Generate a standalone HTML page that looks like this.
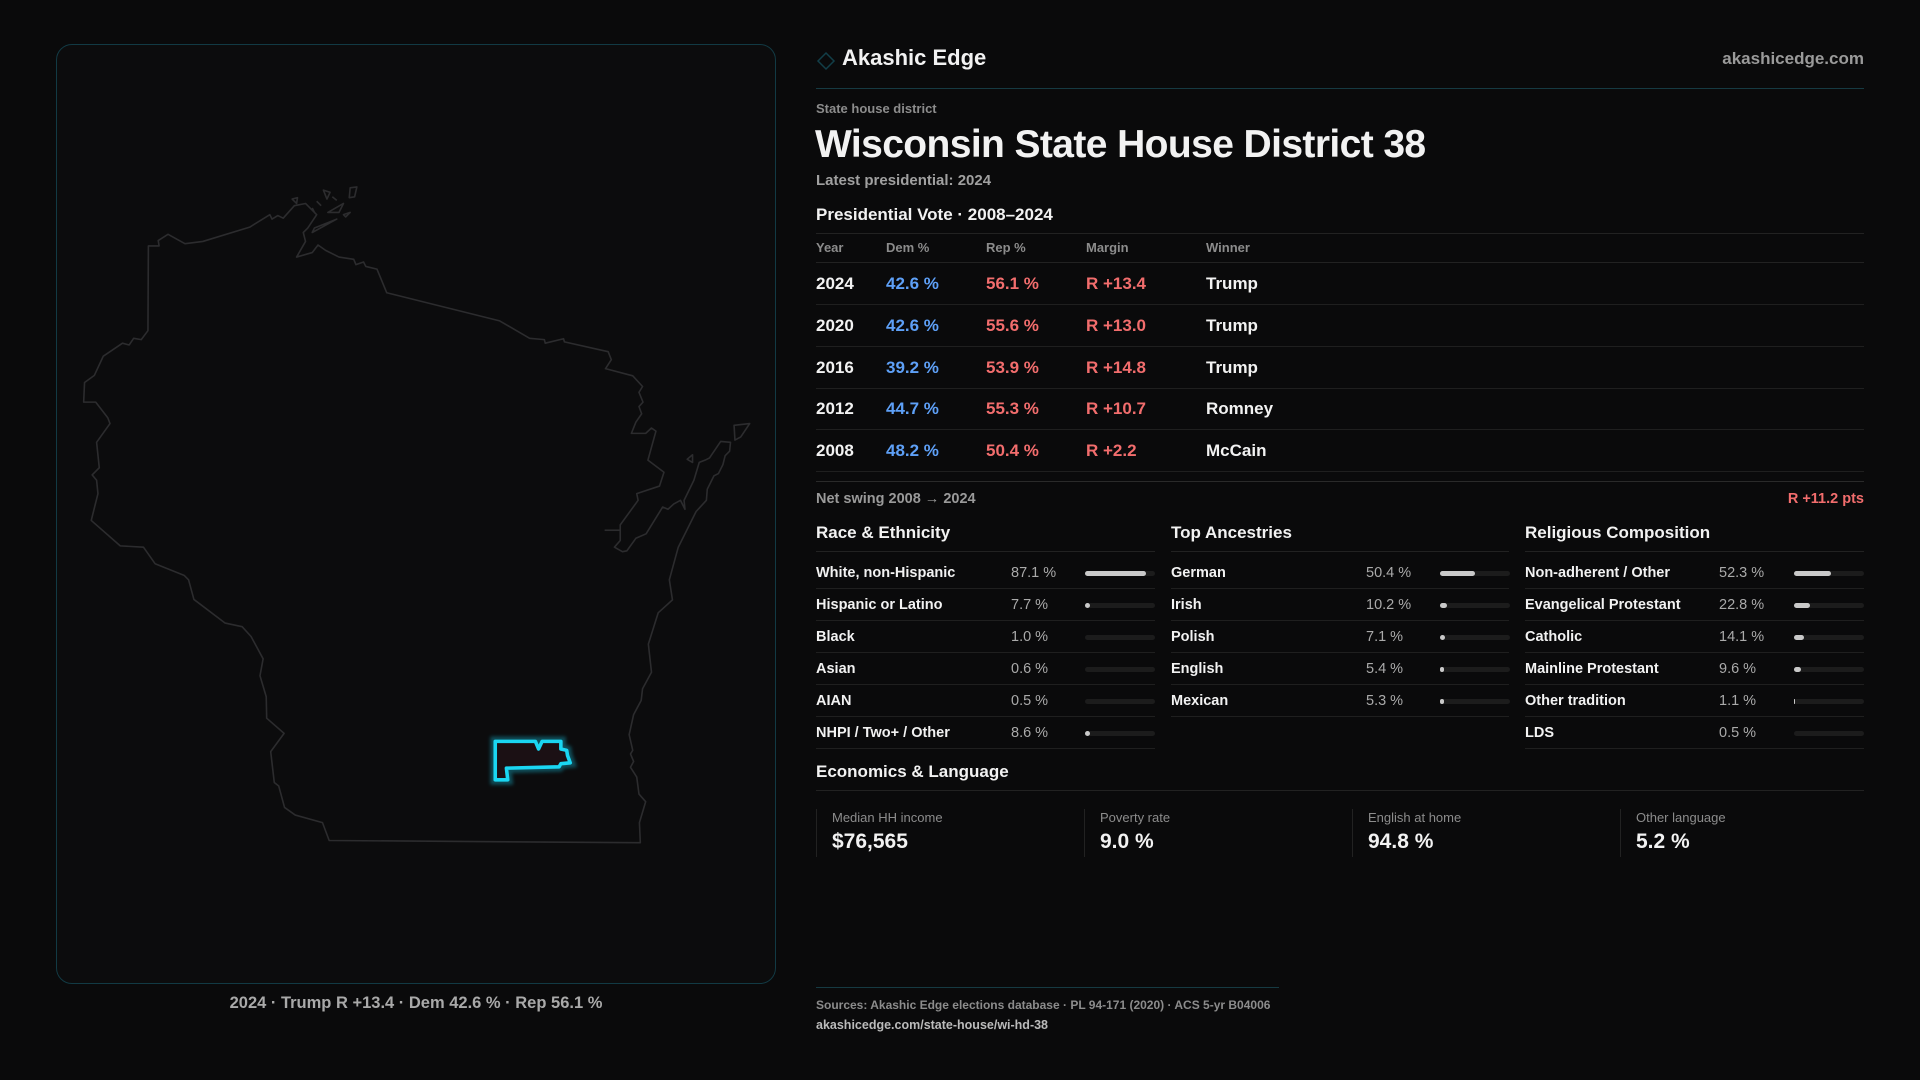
<!DOCTYPE html>
<html><head><meta charset="utf-8"><style>
*{margin:0;padding:0;box-sizing:border-box}
body{width:1920px;height:1080px;background:#0a0a0b;font-family:"Liberation Sans",sans-serif;color:#f2f2f2;position:relative;overflow:hidden}
.a{position:absolute;white-space:nowrap}
.g{color:#8c8c8c}
.panel{position:absolute;left:56px;top:44px;width:720px;height:940px;border:1.5px solid #123a44;border-radius:16px;background:#0c0c0d}
.hl{position:absolute;height:1px;background:#222}
.bl{color:#5ea0f7}.rd{color:#f26d6d}
.row{position:absolute;left:816px;width:1048px;height:42px;border-bottom:1px solid #1f1f1f;font-size:17px;font-weight:bold}
.row span{position:absolute;top:11px}
.dr{position:absolute;height:32px;border-bottom:1px solid #1f1f1f;font-size:14.5px;font-weight:bold}
.dr span{position:absolute;top:8px}
.dr .p{font-weight:normal;color:#aaa}
.tr{position:absolute;top:14px;height:5px;width:70px;background:#1c1c1c;border-radius:3px}
.tr i{display:block;height:5px;background:#c9c9c9;border-radius:3px}
.sh{position:absolute;font-size:17px;font-weight:bold}
.st{position:absolute;top:809px;height:48px;border-left:1px solid #222;padding-left:15px}
.st .l{font-size:13px;color:#8c8c8c;margin-top:1px}
.st .v{font-size:21px;font-weight:bold;margin-top:5px}
</style></head><body>
<div class="panel"></div>
<svg class="a" style="left:0;top:0" width="1920" height="1080">
<defs><filter id="gl" x="-50%" y="-50%" width="200%" height="200%"><feGaussianBlur stdDeviation="4"/></filter></defs>
<g transform="translate(60,170) scale(0.4464)" fill="none" stroke="#2c2c2e" stroke-width="3.6" stroke-linejoin="round">
<path d="M198,170 L222,170 L220,158 L242,144 L280,165 L320,160 L425,128 L470,100 L475,110 L488,102 L500,108 L525,80 L550,75 L575,100 L555,130 L545,140 L550,160 L530,195 L565,185 L578,168 L595,180 L625,195 L658,200 L663,212 L680,206 L685,216 L710,222 L732,275 L985,338 L1052,377 L1085,380 L1087,388 L1128,378 L1130,385 L1228,407 L1235,425 L1222,445 L1283,461 L1305,485 L1297,498 L1306,520 L1297,530 L1303,546 L1290,565 L1280,590 L1312,590 L1325,578 L1335,585 L1317,650 L1353,677 L1343,708 L1292,725 L1295,740 L1255,795 L1255,830 L1242,845 L1260,855 L1270,853 L1290,825 L1313,815 L1350,755 L1362,760 L1375,748 L1390,740 L1400,760 L1398,740 L1420,695 L1432,655 L1445,650 L1455,645 L1480,608 L1502,610 L1500,630 L1490,640 L1485,660 L1475,680 L1465,685 L1450,715 L1448,740 L1425,765 L1385,845 L1365,918 L1372,963 L1340,992 L1318,1062 L1325,1125 L1305,1162 L1302,1188 L1285,1220 L1275,1265 L1283,1300 L1278,1308 L1285,1325 L1278,1338 L1292,1360 L1297,1398 L1312,1415 L1298,1462 L1300,1507 L603,1502 L588,1462 L527,1445 L503,1428 L490,1380 L480,1372 L472,1303 L502,1262 L463,1228 L462,1180 L448,1133 L455,1095 L428,1045 L408,1023 L370,1015 L300,962 L288,918 L278,908 L213,882 L187,845 L135,842 L70,785 L85,725 L82,695 L72,683 L88,667 L82,610 L112,568 L107,555 L80,520 L53,520 L55,476 L77,460 L97,417 L140,388 L155,392 L165,377 L182,380 L197,360 Z"/>
<path d="M1510,572 L1545,568 L1525,598 L1512,605 Z"/>
<path d="M1405,648 L1417,638 L1417,655 Z"/>
<path d="M1220,807 L1255,807"/>
<path d="M565,140 L620,110 L570,130 Z M600,95 L635,75 L625,95 Z M650,40 L665,38 L660,60 L648,62 Z M590,45 L605,50 L598,65 Z M520,65 L532,62 L530,75 Z M635,100 L650,95 L640,105 Z"/>
<path d="M575,70 L585,80 M610,60 L620,68 M565,85 L570,95"/>
</g>
<g transform="translate(60,170) scale(0.4464)">
<path d="M975,1280 L1065,1280 L1072,1297 L1080,1280 L1122,1280 L1122,1297 L1135,1300 L1137,1312 L1143,1328 L1122,1330 L1118,1337 L1000,1340 L1003,1366 L975,1366 Z" fill="none" stroke="#19c8e6" stroke-width="22" opacity="0.35" filter="url(#gl)"/>
<path d="M975,1280 L1065,1280 L1072,1297 L1080,1280 L1122,1280 L1122,1297 L1135,1300 L1137,1312 L1143,1328 L1122,1330 L1118,1337 L1000,1340 L1003,1366 L975,1366 Z" fill="#1b1014" stroke="#1ad6f2" stroke-width="8" stroke-linejoin="round"/>
</g>
<path d="M826,53 L834,61 L826,69 L818,61 Z" fill="none" stroke="#123e48" stroke-width="1.5"/>
</svg>
<div class="a" style="left:0;width:832px;top:994px;text-align:center;font-size:16.5px;font-weight:bold;color:#a9a9a9">2024 · Trump R +13.4 · Dem 42.6 % · Rep 56.1 %</div>

<div class="a" style="left:842px;top:45px;font-size:22px;font-weight:bold">Akashic Edge</div>
<div class="a" style="right:56px;top:49px;font-size:17px;font-weight:bold;color:#9a9a9a">akashicedge.com</div>
<div class="hl" style="left:816px;width:1048px;top:88px;background:#163a42"></div>
<div class="a g" style="left:816px;top:101px;font-size:13px;font-weight:bold">State house district</div>
<div class="a" style="left:815px;top:123px;font-size:39px;font-weight:bold;letter-spacing:-0.6px">Wisconsin State House District 38</div>
<div class="a" style="left:816px;top:172px;font-size:15px;font-weight:bold;color:#a0a0a0">Latest presidential: 2024</div>
<div class="a" style="left:816px;top:205px;font-size:17px;font-weight:bold">Presidential Vote · 2008–2024</div>
<div class="hl" style="left:816px;width:1048px;top:233px"></div>
<div class="a g" style="left:816px;top:240px;font-size:13px;font-weight:bold"><span style="position:absolute;left:0">Year</span><span style="position:absolute;left:70px">Dem %</span><span style="position:absolute;left:170px">Rep %</span><span style="position:absolute;left:270px">Margin</span><span style="position:absolute;left:390px">Winner</span></div>
<div class="hl" style="left:816px;width:1048px;top:262px"></div>
<div class="row" style="top:263px"><span style="left:0">2024</span><span class="bl" style="left:70px">42.6 %</span><span class="rd" style="left:170px">56.1 %</span><span class="rd" style="left:270px">R +13.4</span><span style="left:390px">Trump</span></div>
<div class="row" style="top:305px"><span style="left:0">2020</span><span class="bl" style="left:70px">42.6 %</span><span class="rd" style="left:170px">55.6 %</span><span class="rd" style="left:270px">R +13.0</span><span style="left:390px">Trump</span></div>
<div class="row" style="top:347px"><span style="left:0">2016</span><span class="bl" style="left:70px">39.2 %</span><span class="rd" style="left:170px">53.9 %</span><span class="rd" style="left:270px">R +14.8</span><span style="left:390px">Trump</span></div>
<div class="row" style="top:388px"><span style="left:0">2012</span><span class="bl" style="left:70px">44.7 %</span><span class="rd" style="left:170px">55.3 %</span><span class="rd" style="left:270px">R +10.7</span><span style="left:390px">Romney</span></div>
<div class="row" style="top:430px"><span style="left:0">2008</span><span class="bl" style="left:70px">48.2 %</span><span class="rd" style="left:170px">50.4 %</span><span class="rd" style="left:270px">R +2.2</span><span style="left:390px">McCain</span></div>
<div class="hl" style="left:816px;width:1048px;top:481px;background:#2a2a2a"></div>
<div class="a" style="left:816px;top:491px;font-size:14.5px;font-weight:bold;color:#9a9a9a">Net swing 2008 → 2024</div>
<div class="a rd" style="right:56px;top:491px;font-size:14.5px;font-weight:bold">R +11.2 pts</div>

<div class="sh" style="left:816px;top:523px">Race &amp; Ethnicity</div>
<div class="sh" style="left:1171px;top:523px">Top Ancestries</div>
<div class="sh" style="left:1525px;top:523px">Religious Composition</div>
<div class="hl" style="left:816px;width:339px;top:551px"></div>
<div class="hl" style="left:1171px;width:338px;top:551px"></div>
<div class="hl" style="left:1525px;width:339px;top:551px"></div>

<div class="dr" style="left:816px;width:339px;top:557px"><span style="left:0">White, non-Hispanic</span><span class="p" style="left:195px">87.1 %</span><div class="tr" style="left:269px"><i style="width:61px"></i></div></div>
<div class="dr" style="left:816px;width:339px;top:589px"><span style="left:0">Hispanic or Latino</span><span class="p" style="left:195px">7.7 %</span><div class="tr" style="left:269px"><i style="width:5px"></i></div></div>
<div class="dr" style="left:816px;width:339px;top:621px"><span style="left:0">Black</span><span class="p" style="left:195px">1.0 %</span><div class="tr" style="left:269px"><i style="width:0"></i></div></div>
<div class="dr" style="left:816px;width:339px;top:653px"><span style="left:0">Asian</span><span class="p" style="left:195px">0.6 %</span><div class="tr" style="left:269px"><i style="width:0"></i></div></div>
<div class="dr" style="left:816px;width:339px;top:685px"><span style="left:0">AIAN</span><span class="p" style="left:195px">0.5 %</span><div class="tr" style="left:269px"><i style="width:0"></i></div></div>
<div class="dr" style="left:816px;width:339px;top:717px"><span style="left:0">NHPI / Two+ / Other</span><span class="p" style="left:195px">8.6 %</span><div class="tr" style="left:269px"><i style="width:5px"></i></div></div>

<div class="dr" style="left:1171px;width:338px;top:557px"><span style="left:0">German</span><span class="p" style="left:195px">50.4 %</span><div class="tr" style="left:269px"><i style="width:35px"></i></div></div>
<div class="dr" style="left:1171px;width:338px;top:589px"><span style="left:0">Irish</span><span class="p" style="left:195px">10.2 %</span><div class="tr" style="left:269px"><i style="width:7px"></i></div></div>
<div class="dr" style="left:1171px;width:338px;top:621px"><span style="left:0">Polish</span><span class="p" style="left:195px">7.1 %</span><div class="tr" style="left:269px"><i style="width:5px"></i></div></div>
<div class="dr" style="left:1171px;width:338px;top:653px"><span style="left:0">English</span><span class="p" style="left:195px">5.4 %</span><div class="tr" style="left:269px"><i style="width:4px"></i></div></div>
<div class="dr" style="left:1171px;width:338px;top:685px"><span style="left:0">Mexican</span><span class="p" style="left:195px">5.3 %</span><div class="tr" style="left:269px"><i style="width:4px"></i></div></div>

<div class="dr" style="left:1525px;width:339px;top:557px"><span style="left:0">Non-adherent / Other</span><span class="p" style="left:194px">52.3 %</span><div class="tr" style="left:269px"><i style="width:37px"></i></div></div>
<div class="dr" style="left:1525px;width:339px;top:589px"><span style="left:0">Evangelical Protestant</span><span class="p" style="left:194px">22.8 %</span><div class="tr" style="left:269px"><i style="width:16px"></i></div></div>
<div class="dr" style="left:1525px;width:339px;top:621px"><span style="left:0">Catholic</span><span class="p" style="left:194px">14.1 %</span><div class="tr" style="left:269px"><i style="width:10px"></i></div></div>
<div class="dr" style="left:1525px;width:339px;top:653px"><span style="left:0">Mainline Protestant</span><span class="p" style="left:194px">9.6 %</span><div class="tr" style="left:269px"><i style="width:7px"></i></div></div>
<div class="dr" style="left:1525px;width:339px;top:685px"><span style="left:0">Other tradition</span><span class="p" style="left:194px">1.1 %</span><div class="tr" style="left:269px"><i style="width:1px"></i></div></div>
<div class="dr" style="left:1525px;width:339px;top:717px"><span style="left:0">LDS</span><span class="p" style="left:194px">0.5 %</span><div class="tr" style="left:269px"><i style="width:0"></i></div></div>

<div class="sh" style="left:816px;top:762px">Economics &amp; Language</div>
<div class="hl" style="left:816px;width:1048px;top:790px"></div>
<div class="st" style="left:816px"><div class="l">Median HH income</div><div class="v">$76,565</div></div>
<div class="st" style="left:1084px"><div class="l">Poverty rate</div><div class="v">9.0 %</div></div>
<div class="st" style="left:1352px"><div class="l">English at home</div><div class="v">94.8 %</div></div>
<div class="st" style="left:1620px"><div class="l">Other language</div><div class="v">5.2 %</div></div>

<div class="hl" style="left:816px;width:463px;top:987px;background:#163a42"></div>
<div class="a g" style="left:816px;top:998px;font-size:12px;font-weight:bold">Sources: Akashic Edge elections database · PL 94-171 (2020) · ACS 5-yr B04006</div>
<div class="a" style="left:816px;top:1018px;font-size:12.5px;font-weight:bold;color:#bbb">akashicedge.com/state-house/wi-hd-38</div>
</body></html>
